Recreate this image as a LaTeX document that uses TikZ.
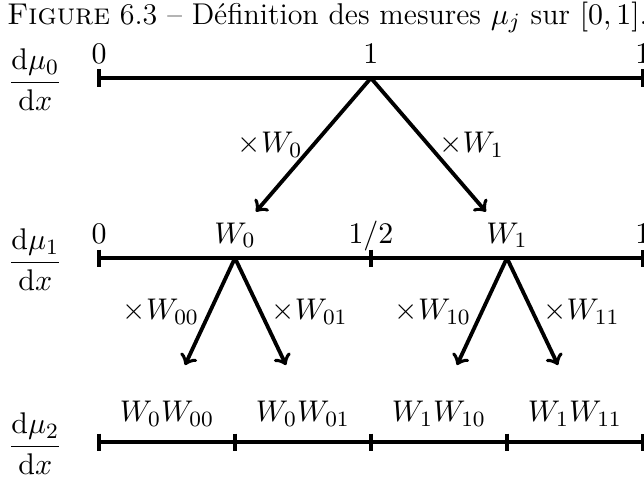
\documentclass[tikz,border=0pt]{standalone}
\usepackage{amsmath}
\begin{document}
\begin{tikzpicture}[line width=1.4pt, >=to,
        every node/.style={font=\fontsize{11}{13}\selectfont},
        val/.style={anchor=base, inner sep=0pt},
        dens/.style={inner sep=0pt}]
        \useasboundingbox (-1.274, 1.004) rectangle (7.014, -5.148);
        % Caption
        \node[val] (cap) at (2.94, 0.69) {\textsc{Figure} 6.3 -- Définition des mesures $\mu_j$ sur $[0,1]$.};
        % Level 0
        \node[dens] (f0) at (-0.82, -0.02) {$\dfrac{\mathrm{d}\mu_0}{\mathrm{d}x}$};
        \draw (0, 0) -- (7, 0);
        \foreach \x in {0, 7} {
            \draw (\x, 0.11) -- (\x, -0.11);
        }
        \node[val] (a0) at (0, 0.19) {$0$};
        \node[val] (a1) at (3.5, 0.19) {$1$};
        \node[val] (a2) at (7, 0.19) {$1$};
        % Splitting 0 -> 1
        \coordinate (s0) at (3.5, 0);
        \coordinate (t0) at (2.02, -1.72);
        \coordinate (t1) at (4.98, -1.72);
        \draw[->] (s0) -- (t0) node[midway, left] {$\times W_0$};
        \draw[->] (s0) -- (t1) node[midway, right] {$\times W_1$};
        % Level 1
        \node[dens] (f1) at (-0.82, -2.337) {$\dfrac{\mathrm{d}\mu_1}{\mathrm{d}x}$};
        \draw (0, -2.317) -- (7, -2.317);
        \foreach \x in {0, 3.5, 7} {
            \draw (\x, -2.207) -- (\x, -2.427);
        }
        \node[val] (b0) at (0, -2.127) {$0$};
        \node[val] (b1) at (1.75, -2.127) {$W_0$};
        \node[val] (b2) at (3.5, -2.127) {$1/2$};
        \node[val] (b3) at (5.25, -2.127) {$W_1$};
        \node[val] (b4) at (7, -2.127) {$1$};
        % Splitting 1 -> 2
        \coordinate (s10) at (1.75, -2.317);
        \coordinate (s11) at (5.25, -2.317);
        \coordinate (t00) at (1.107, -3.694);
        \coordinate (t01) at (2.407, -3.694);
        \coordinate (t10) at (4.607, -3.694);
        \coordinate (t11) at (5.907, -3.694);
        \draw[->] (s10) -- (t00) node[midway, left] {$\times W_{00}$};
        \draw[->] (s10) -- (t01) node[midway, right] {$\times W_{01}$};
        \draw[->] (s11) -- (t10) node[midway, left] {$\times W_{10}$};
        \draw[->] (s11) -- (t11) node[midway, right] {$\times W_{11}$};
        % Level 2
        \node[dens] (f2) at (-0.82, -4.705) {$\dfrac{\mathrm{d}\mu_2}{\mathrm{d}x}$};
        \draw (0, -4.685) -- (7, -4.685);
        \foreach \x in {0, 1.75, ..., 7} {
            \draw (\x, -4.575) -- (\x, -4.795);
        }
        \foreach \w [count=\i] in {W_0W_{00}, W_0W_{01}, W_1W_{10}, W_1W_{11}} {
            \node[val] (c\i) at ({1.75*\i-0.875}, -4.425) {$\w$};
        }
\end{tikzpicture}
\end{document}
